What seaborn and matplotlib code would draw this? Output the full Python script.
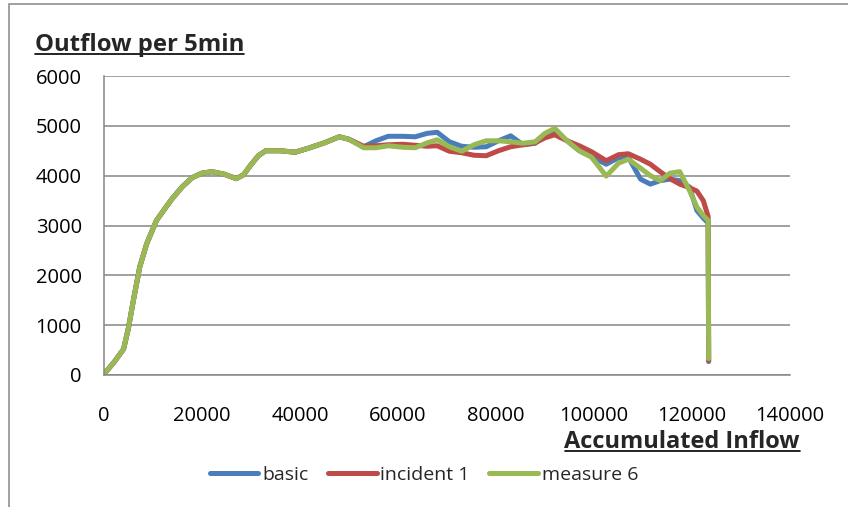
import pandas as pd
import numpy as np
import matplotlib
matplotlib.use("Agg")
import matplotlib.pyplot as plt
import seaborn as sns
from matplotlib.lines import Line2D
from matplotlib.patches import Rectangle

# ==== Data ====
inflow = [0, 2000, 4000, 5000, 6000, 7300, 8700, 10700, 12500, 14000,
          16000, 18000, 20000, 22000, 24500, 27000, 28500, 30000, 31500, 33000,
          36000, 39000, 42000, 45000, 48000, 50000,
          53000, 55500, 58000, 61000, 63500, 66000, 68000, 70500, 73000,
          75500, 78000, 80500, 83000, 85500, 88000, 90000, 92000, 94500, 97000,
          99500, 102500, 105000, 107000, 109500, 111500, 113500, 115500, 117500, 119500,
          121000, 122300, 123300, 123400]

start = [20, 250, 520, 950, 1500, 2170, 2630, 3100, 3350, 3550,
         3780, 3960, 4050, 4080, 4030, 3940, 4020, 4220, 4400, 4500,
         4500, 4470, 4560, 4660, 4780, 4730]

basic = start + [4580, 4700, 4790, 4790, 4780, 4850, 4870, 4680, 4590,
                 4570, 4580, 4700, 4800, 4620, 4650, 4820, 4880, 4700, 4500,
                 4380, 4230, 4360, 4370, 3930, 3830, 3900, 3930, 3900, 3770,
                 3300, 3150, 3050, 270]

incident_1 = start + [4590, 4600, 4620, 4630, 4610, 4590, 4600, 4490, 4460,
                      4410, 4400, 4500, 4580, 4620, 4660, 4760, 4820, 4700, 4600,
                      4480, 4300, 4420, 4440, 4330, 4230, 4080, 3940, 3830, 3760,
                      3690, 3500, 3180, 290]

measure_6 = start + [4560, 4560, 4600, 4570, 4560, 4660, 4720, 4580, 4490,
                     4620, 4700, 4700, 4680, 4650, 4680, 4850, 4950, 4700, 4500,
                     4370, 3990, 4250, 4330, 4150, 4000, 3900, 4050, 4080, 3700,
                     3370, 3200, 3100, 330]

series_names = ["basic", "incident 1", "measure 6"]
series_values = [basic, incident_1, measure_6]
colors = ["#4A7EBB", "#BE4B48", "#98B954"]

x_ticks = [0, 20000, 40000, 60000, 80000, 100000, 120000, 140000]
y_ticks = [0, 1000, 2000, 3000, 4000, 5000, 6000]

# ==== Style ====
sns.set_style("white")
plt.rcParams["font.family"] = ["Open Sans", "DejaVu Sans"]
grey = "#868686"

fig = plt.figure(figsize=(8.48, 5.07), dpi=100)
ax = fig.add_axes([104 / 848, 1 - 375 / 507, 686 / 848, 299 / 507])

for name, vals, col in zip(series_names, series_values, colors):
    df = pd.DataFrame({"inflow": inflow, "outflow": vals})
    sns.lineplot(data=df, x="inflow", y="outflow", sort=False, color=col,
                 linewidth=3.6, label=name, ax=ax,
                 solid_joinstyle="round", solid_capstyle="round")

ax.set_xlim(0, 140000)
ax.set_ylim(0, 6000)
ax.set_xticks(x_ticks)
ax.set_yticks(y_ticks)
ax.set_xlabel("")
ax.set_ylabel("")
ax.grid(axis="y", color=grey, linewidth=1.1)
ax.set_axisbelow(True)
for s in ["top", "right"]:
    ax.spines[s].set_visible(False)
for s in ["left", "bottom"]:
    ax.spines[s].set_color(grey)
    ax.spines[s].set_linewidth(1.1)
ax.tick_params(axis="both", direction="out", length=6, width=1.1, color=grey,
               labelsize=14.5, labelcolor="black")
ax.tick_params(axis="y", pad=10)
ax.tick_params(axis="x", pad=16)

handles, labels = ax.get_legend_handles_labels()
ax.get_legend().remove()
fig.legend(handles, labels, loc="center", bbox_to_anchor=(424 / 848, 1 - 475 / 507),
           ncol=3, frameon=False, fontsize=14, handlelength=2.5,
           handletextpad=0.2, columnspacing=1.0)

# chart area border
fig.patches.append(Rectangle((9 / 848, -0.1), 2, 1.1 - 4 / 507, transform=fig.transFigure,
                             fill=False, edgecolor=grey, linewidth=1.1))

title = fig.text(35 / 848, 1 - 51 / 507, "Outflow per 5min", fontsize=17.2,
                 fontweight="bold", ha="left", va="baseline")
xlab = fig.text(800 / 848, 1 - 448 / 507, "Accumulated Inflow", fontsize=17,
                fontweight="bold", ha="right", va="baseline")

# underline the two labels
fig.canvas.draw()
r = fig.canvas.get_renderer()
for t, base in [(title, 51), (xlab, 448)]:
    bb = t.get_window_extent(r)
    y = 1 - (base + 2.5) / 507
    fig.add_artist(Line2D([bb.x0 / 848, bb.x1 / 848], [y, y], transform=fig.transFigure,
                          color="black", linewidth=1.2))

fig.savefig("out.png", dpi=100)
